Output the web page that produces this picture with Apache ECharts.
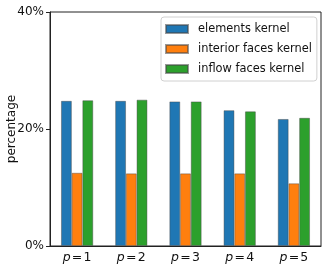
<!DOCTYPE html>
<html><head><meta charset="utf-8">
<script src="https://cdn.jsdelivr.net/npm/echarts@6/dist/echarts.min.js"></script>
<style>html,body{margin:0;padding:0;background:#fff}#c{width:327px;height:273px}</style>
</head><body><div id="c"></div>
<script>
var categories = ['1', '2', '3', '4', '5'];
var elementsKernel = [24.8, 24.8, 24.7, 23.2, 21.7];
var interiorFacesKernel = [12.5, 12.4, 12.4, 12.4, 10.7];
var inflowFacesKernel = [24.9, 25.0, 24.7, 23.0, 21.9];
var yTicks = [0, 20, 40];

var font = 'DejaVu Sans';
var chart = echarts.init(document.getElementById('c'), null, {renderer: 'canvas'});
var border = {borderColor: 'rgba(70,70,70,0.55)', borderWidth: 0.8};
function mk(name, data, color) {
  return {name: name, type: 'bar', data: data, barWidth: 10.7, barGap: '0%',
    itemStyle: Object.assign({color: color}, border)};
}
chart.setOption({
  animation: false,
  grid: {left: 50, right: 6, top: 12, bottom: 27, show: true, borderColor: '#222', borderWidth: 1,
    backgroundColor: 'transparent', containLabel: false, outerBoundsMode: 'none'},
  legend: {
    orient: 'vertical', left: 161, top: 17, itemWidth: 22, itemHeight: 8, itemGap: 6,
    icon: 'rect',
    padding: [5, 5, 5, 4], borderColor: '#d0d0d0', borderWidth: 1, borderRadius: 3,
    textStyle: {fontFamily: font, fontSize: 11.4, color: '#111', lineHeight: 14, padding: [0, 0, 0, 5]},
    data: ['elements kernel', 'interior faces kernel', 'inflow faces kernel']
  },
  xAxis: {
    type: 'category', data: categories,
    axisLine: {lineStyle: {color: '#222', width: 1}},
    axisTick: {alignWithLabel: true, length: 4, lineStyle: {color: '#222'}},
    axisLabel: {
      interval: 0, margin: 5, color: '#111', fontFamily: font, fontSize: 12.5,
      formatter: function (v) { return '{i|p}\u200a=\u200a' + v; },
      rich: {i: {fontStyle: 'italic', fontFamily: font, fontSize: 12.5, color: '#111'}}
    },
    splitLine: {show: false}
  },
  yAxis: {
    type: 'value', min: yTicks[0], max: yTicks[yTicks.length - 1], interval: yTicks[1] - yTicks[0],
    name: 'percentage', nameLocation: 'middle', nameRotate: 90, nameGap: 32, nameMoveOverlap: false,
    nameTextStyle: {fontFamily: font, fontSize: 12, color: '#111'},
    axisLine: {show: true, lineStyle: {color: '#222', width: 1}},
    axisTick: {show: true, length: 4, lineStyle: {color: '#222'}},
    axisLabel: {margin: 6, color: '#111', fontFamily: font, fontSize: 12, formatter: '{value}%'},
    splitLine: {show: false}
  },
  series: [
    mk('elements kernel', elementsKernel, '#1f77b4'),
    mk('interior faces kernel', interiorFacesKernel, '#ff7f0e'),
    mk('inflow faces kernel', inflowFacesKernel, '#2ca02c')
  ]
});
</script></body></html>
